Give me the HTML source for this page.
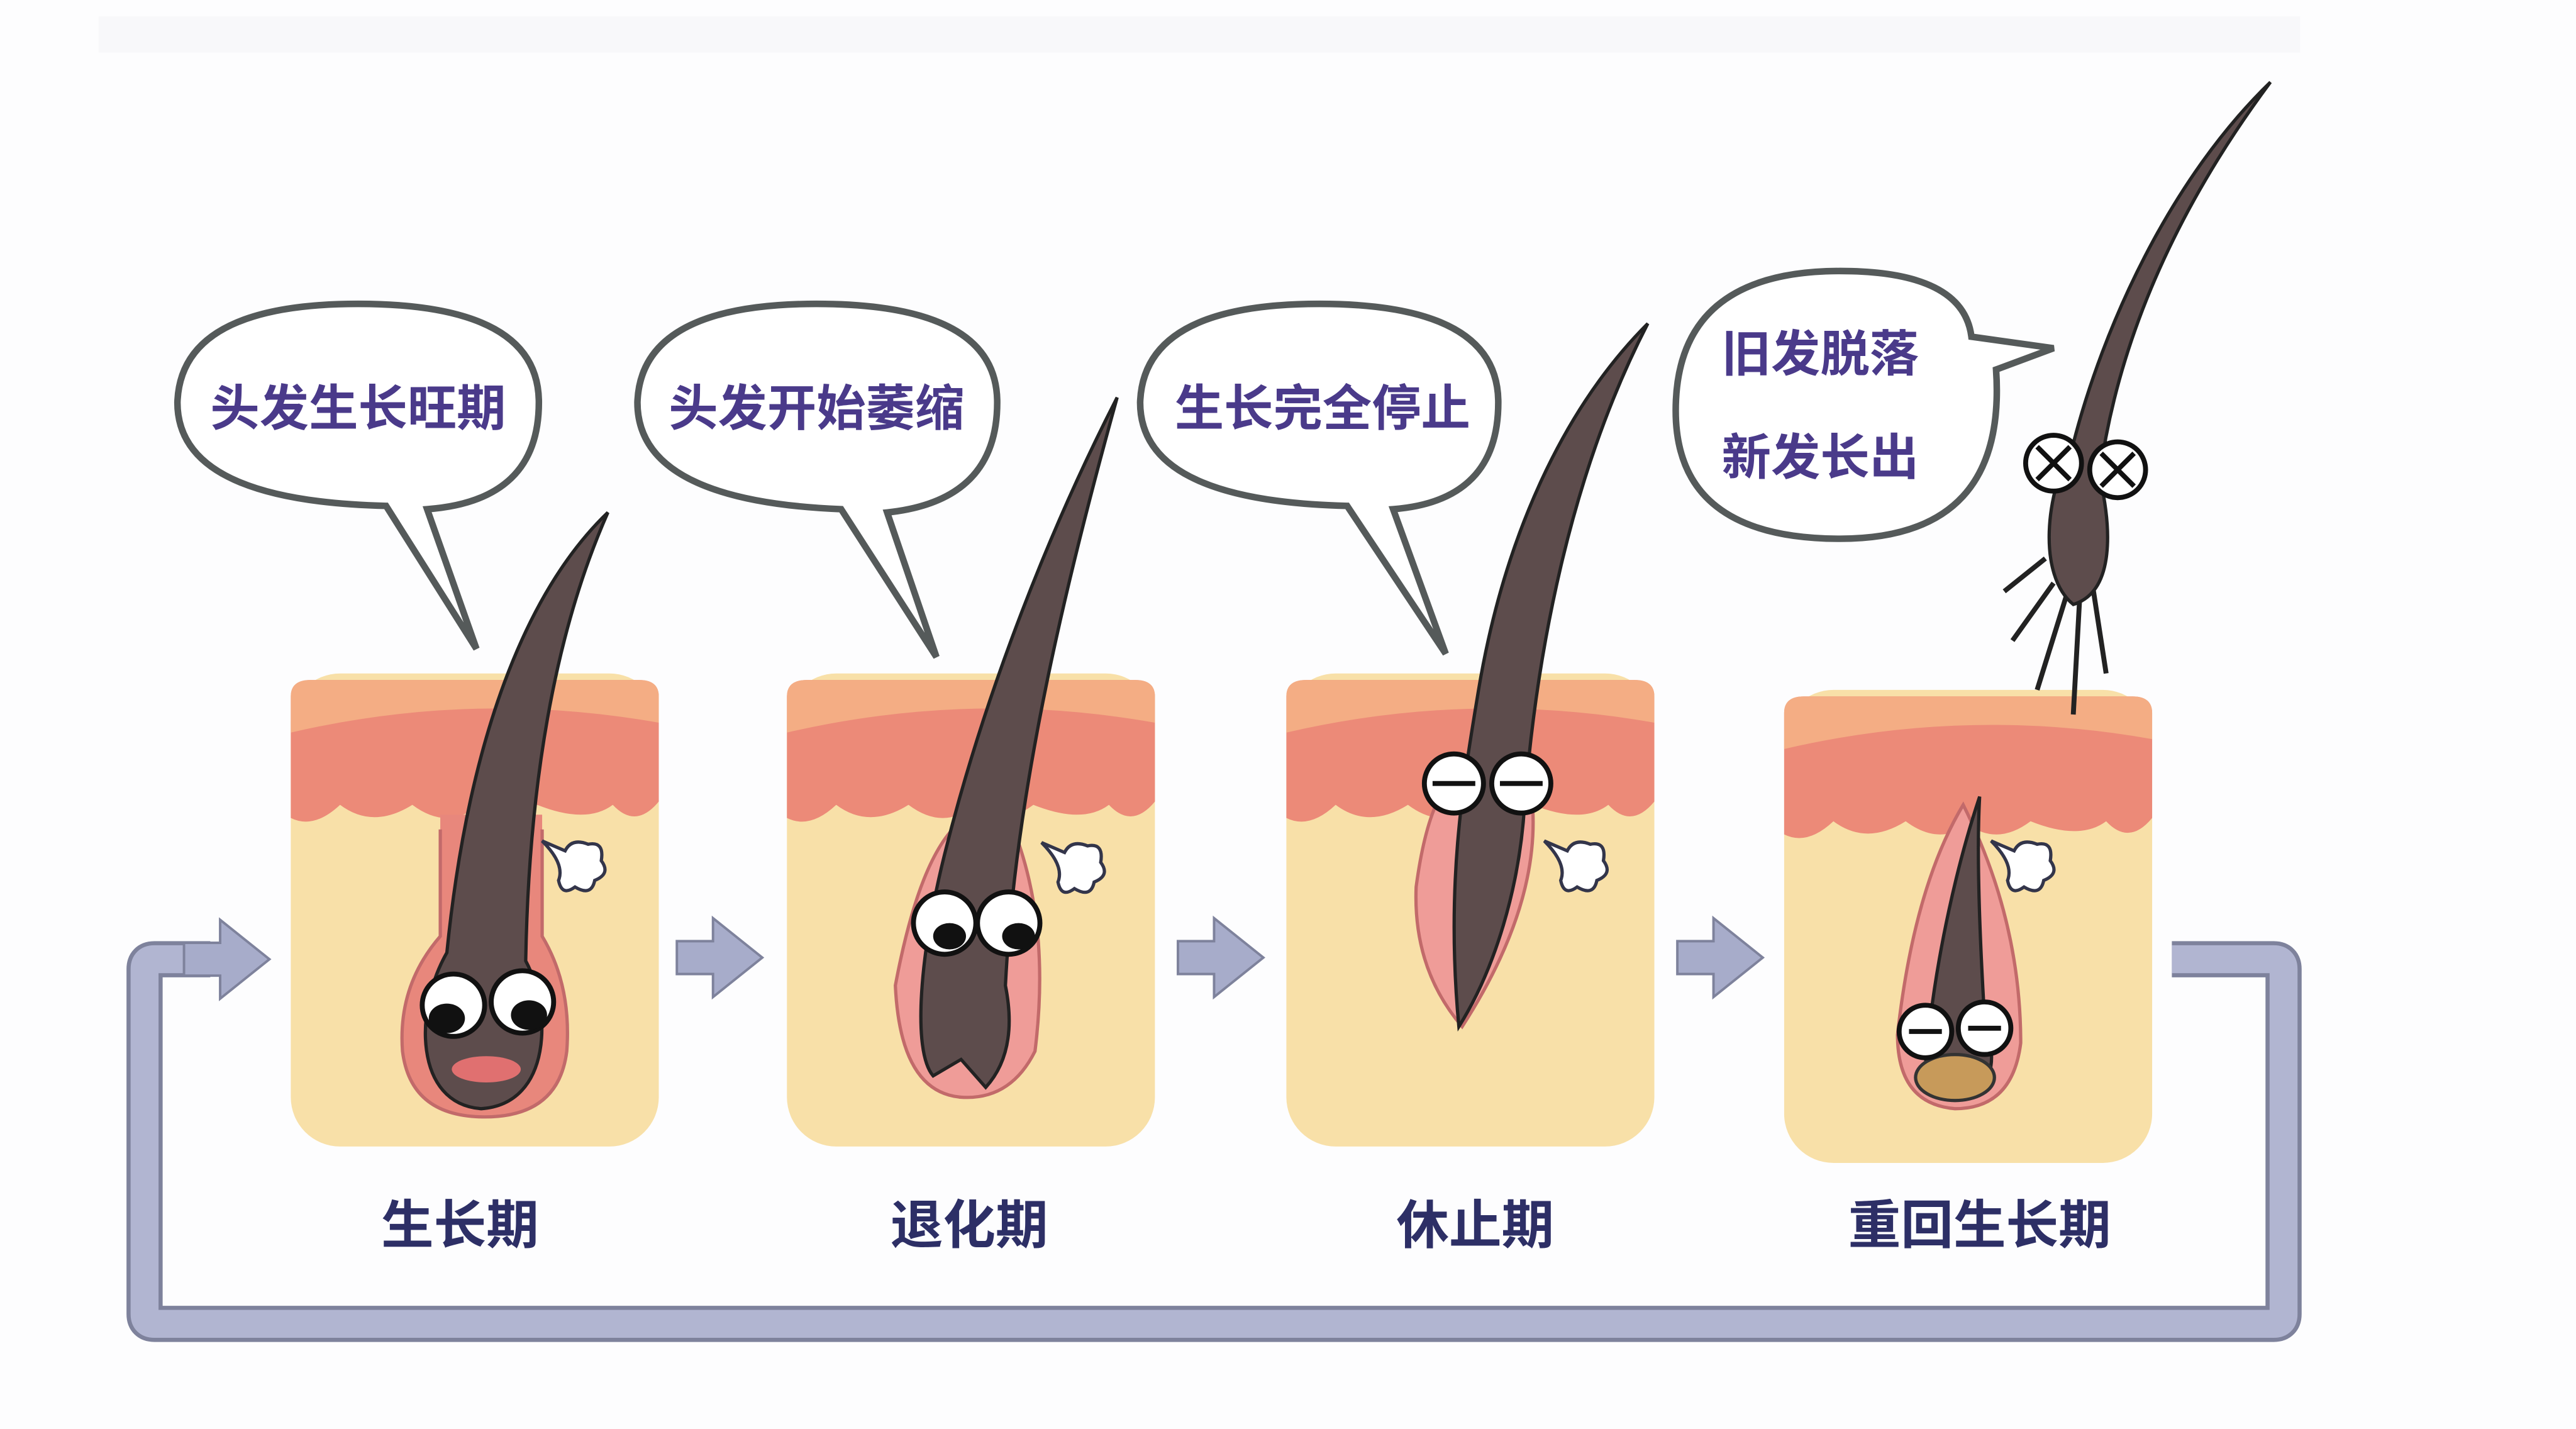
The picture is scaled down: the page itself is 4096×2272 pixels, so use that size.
<!DOCTYPE html>
<html><head><meta charset="utf-8"><style>
html,body{margin:0;padding:0;background:#fff;width:4096px;height:2272px;overflow:hidden}
svg{display:block}
.b{font-family:"Liberation Sans","Noto Sans CJK SC",sans-serif;font-weight:bold}
</style></head><body>
<svg width="4096" height="2272" viewBox="0 0 1568 870" preserveAspectRatio="none">
<rect width="1568" height="870" fill="#fdfdfe"/>
<rect x="60" y="10" width="1340" height="22" fill="#f8f8fa"/>
<defs>
<g id="panel">
<rect x="0" y="0" width="224" height="288" rx="30" fill="#f8e0a8"/>
<path d="M0,14 Q0,4 12,4 L212,4 Q224,4 224,14 L224,78 Q210,95 196,80 Q180,92 150,80 Q130,95 112,82 Q94,95 74,80 Q50,95 30,80 Q14,95 0,88 Z" fill="#ec8a78"/>
<path d="M0,14 Q0,4 12,4 L212,4 Q224,4 224,14 L224,30 Q112,10 0,36 Z" fill="#f4ad84"/>
</g>
<g id="arr"><path d="M0,-10 L22,-10 L22,-24 L52,0 L22,24 L22,10 L0,10 Z" fill="#a7acca" stroke="#7e829c" stroke-width="1.5"/></g>
<g id="puff"><path d="M0,0 L14,6 Q18,-2 28,2 Q38,0 36,12 Q42,20 32,24 Q30,34 20,28 Q12,34 10,24 Q14,14 0,0 Z" fill="#fff" stroke="#33354a" stroke-width="2"/></g>
</defs>
<!-- loop -->
<path d="M1322,584 L1384,584 Q1390,584 1390,590 L1390,800 Q1390,806 1384,806 L94,806 Q88,806 88,800 L88,590 Q88,584 94,584 L128,584" fill="none" stroke="#7e829c" stroke-width="22"/>
<path d="M1322,584 L1384,584 Q1390,584 1390,590 L1390,800 Q1390,806 1384,806 L94,806 Q88,806 88,800 L88,590 Q88,584 94,584 L128,584" fill="none" stroke="#b1b5d1" stroke-width="17"/>
<use href="#arr" transform="translate(112,584)"/>
<use href="#arr" transform="translate(412,583)"/>
<use href="#arr" transform="translate(717,583)"/>
<use href="#arr" transform="translate(1021,583)"/>
<use href="#panel" transform="translate(177,410)"/>
<use href="#panel" transform="translate(479,410)"/>
<use href="#panel" transform="translate(783,410)"/>
<use href="#panel" transform="translate(1086,420)"/>
<!-- bubbles -->
<g fill="#fff" stroke="#555a5a" stroke-width="4">
<path d="M235,308 Q108,305 108,245 Q110,185 218,185 Q328,185 328,245 Q328,305 260,310 L290,395 Z"/>
<path d="M512,310 Q388,305 388,245 Q390,185 497,185 Q607,185 607,245 Q607,305 540,312 L570,400 Z"/>
<path d="M820,308 Q694,305 694,245 Q696,185 803,185 Q912,185 912,245 Q912,305 848,310 L880,398 Z"/>
<path d="M1120,328 Q1020,328 1020,250 Q1020,165 1120,165 Q1195,165 1200,205 L1250,212 L1215,225 Q1222,328 1120,328 Z"/>
</g>
<g class="b" fill="#4a3a8a" font-size="30" text-anchor="middle">
<text x="218" y="259">头发生长旺期</text>
<text x="497" y="259">头发开始萎缩</text>
<text x="805" y="259">生长完全停止</text>
<text x="1108" y="226">旧发脱落</text>
<text x="1108" y="289">新发长出</text>
</g>
<g class="b" fill="#2d2f66" font-size="32" text-anchor="middle">
<text x="280" y="757">生长期</text>
<text x="590" y="757">退化期</text>
<text x="898" y="757">休止期</text>
<text x="1205" y="757">重回生长期</text>
</g>
<!-- hair 1 -->
<path d="M268,496 L268,570 Q242,600 245,640 Q250,680 295,680 Q340,680 345,640 Q348,600 330,570 L330,496 Z" fill="#e8877c"/>
<path d="M268,505 L268,570 Q242,600 245,640 Q250,680 295,680 Q340,680 345,640 Q348,600 330,570 L330,505" fill="none" stroke="#c26a6a" stroke-width="2"/>
<path d="M370,312 C320,360 285,450 272,580 C252,615 252,672 293,675 C336,672 336,615 320,585 C322,470 340,380 370,312 Z" fill="#5d4c4c" stroke="#222" stroke-width="2"/>
<circle cx="276" cy="612" r="19" fill="#fff" stroke="#111" stroke-width="3"/><circle cx="318" cy="610" r="19" fill="#fff" stroke="#111" stroke-width="3"/>
<ellipse cx="272" cy="620" rx="11" ry="9" fill="#111"/><ellipse cx="322" cy="618" rx="11" ry="9" fill="#111"/>
<ellipse cx="296" cy="651" rx="21" ry="8" fill="#e07070"/>
<use href="#puff" transform="translate(330,512)"/>
<!-- hair 2 -->
<path d="M545,600 Q560,520 585,500 L615,500 Q640,560 630,640 Q615,670 585,668 Q548,665 545,600 Z" fill="#ef9c98" stroke="#c26a6a" stroke-width="2"/>
<path d="M680,242 C640,320 600,420 575,520 C560,580 555,640 568,655 L585,645 L600,662 Q620,640 612,600 C618,480 650,350 680,242 Z" fill="#5d4c4c" stroke="#222" stroke-width="2"/>
<circle cx="575" cy="562" r="19" fill="#fff" stroke="#111" stroke-width="3"/><circle cx="614" cy="562" r="19" fill="#fff" stroke="#111" stroke-width="3"/>
<ellipse cx="578" cy="570" rx="10" ry="8" fill="#111"/><ellipse cx="620" cy="570" rx="10" ry="8" fill="#111"/>
<use href="#puff" transform="translate(634,513)"/>
<!-- hair 3 -->
<path d="M862,540 Q870,480 890,470 L930,470 Q945,540 890,625 Q860,590 862,540 Z" fill="#ef9c98" stroke="#c26a6a" stroke-width="2"/>
<path d="M1003,197 C950,250 915,330 900,420 C890,480 880,540 888,625 C910,590 925,540 928,490 C935,400 955,290 1003,197 Z" fill="#5d4c4c" stroke="#222" stroke-width="2"/>
<circle cx="885" cy="477" r="18" fill="#fff" stroke="#111" stroke-width="3"/><circle cx="926" cy="477" r="18" fill="#fff" stroke="#111" stroke-width="3"/>
<path d="M872,477 L898,477 M913,477 L939,477" stroke="#111" stroke-width="3"/>
<use href="#puff" transform="translate(940,512)"/>
<!-- hair 4 -->
<path d="M1155,630 Q1165,540 1195,490 Q1230,560 1230,635 Q1225,675 1190,675 Q1155,672 1155,630 Z" fill="#ef9c98" stroke="#c26a6a" stroke-width="2"/>
<path d="M1205,485 C1190,530 1180,580 1175,620 Q1165,665 1190,668 Q1222,665 1208,620 C1205,570 1203,520 1205,485 Z" fill="#5d4c4c" stroke="#222" stroke-width="2"/>
<ellipse cx="1190" cy="656" rx="24" ry="14" fill="#c79a5a" stroke="#333" stroke-width="2"/>
<circle cx="1172" cy="628" r="16" fill="#fff" stroke="#111" stroke-width="3"/><circle cx="1208" cy="626" r="16" fill="#fff" stroke="#111" stroke-width="3"/>
<path d="M1162,628 L1182,628 M1198,626 L1218,626" stroke="#111" stroke-width="3"/>
<use href="#puff" transform="translate(1212,512)"/>
<!-- flying hair -->
<g stroke="#222" stroke-width="3" fill="none">
<path d="M1245,340 L1220,360 M1250,355 L1225,390 M1258,362 L1240,420 M1266,362 L1262,435 M1274,358 L1282,410"/>
</g>
<path d="M1382,50 C1320,110 1280,200 1262,270 C1245,300 1240,350 1262,368 C1288,360 1285,320 1278,290 C1290,200 1330,120 1382,50 Z" fill="#5d4c4c" stroke="#222" stroke-width="2"/>
<circle cx="1250" cy="282" r="17" fill="#fff" stroke="#111" stroke-width="3"/><circle cx="1289" cy="286" r="17" fill="#fff" stroke="#111" stroke-width="3"/>
<path d="M1240,272 L1260,292 M1260,272 L1240,292 M1279,276 L1299,296 M1299,276 L1279,296" stroke="#111" stroke-width="3"/>
</svg>
</body></html>
